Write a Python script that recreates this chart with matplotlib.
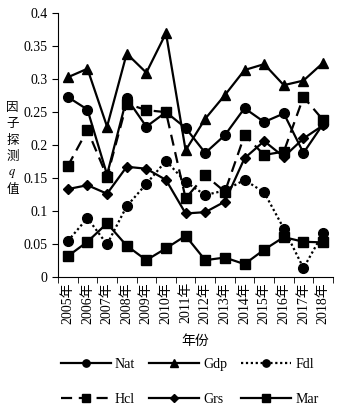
import matplotlib.pyplot as plt
import numpy as np

plt.rcParams['font.family'] = ['Liberation Serif', 'Noto Sans CJK SC']
plt.rcParams['mathtext.fontset'] = 'stix'

years = [f"{y}年" for y in range(2005, 2019)]

nat = [0.273, 0.254, 0.155, 0.271, 0.228, 0.250, 0.226, 0.188, 0.215, 0.256, 0.235, 0.248, 0.188, 0.232]
gdp = [0.303, 0.316, 0.228, 0.339, 0.310, 0.370, 0.192, 0.240, 0.276, 0.314, 0.323, 0.291, 0.298, 0.325]
fdl = [0.054, 0.089, 0.049, 0.107, 0.141, 0.176, 0.144, 0.124, 0.131, 0.147, 0.128, 0.073, 0.013, 0.066]
hcl = [0.168, 0.223, 0.152, 0.263, 0.253, 0.250, 0.119, 0.154, 0.129, 0.215, 0.185, 0.190, 0.273, 0.238]
grs = [0.133, 0.139, 0.126, 0.167, 0.164, 0.147, 0.096, 0.098, 0.114, 0.180, 0.206, 0.182, 0.210, 0.230]
mar = [0.031, 0.053, 0.081, 0.047, 0.025, 0.043, 0.062, 0.025, 0.029, 0.019, 0.041, 0.060, 0.053, 0.052]

ylabel_chars = ["因", "子", "探", "测", "$q$", "值"]

fig = plt.figure(figsize=(3.45, 4.08), dpi=100)
ax = fig.add_axes([0.168, 0.322, 0.797, 0.645])

x = np.arange(len(years))
lw = 1.6
nat_l, = ax.plot(x, nat, "k-", lw=lw, marker="o", ms=7, label="Nat")
gdp_l, = ax.plot(x, gdp, "k-", lw=lw, marker="^", ms=7, label="Gdp")
fdl_l, = ax.plot(x, fdl, "k", ls=(0, (1, 1.2)), lw=lw, marker="o", ms=7, label="Fdl")
hcl_l, = ax.plot(x, hcl, "k", ls=(0, (5, 3)), lw=lw, marker="s", ms=7, label="Hcl")
grs_l, = ax.plot(x, grs, "k-", lw=lw, marker="D", ms=5, label="Grs")
mar_l, = ax.plot(x, mar, "k-", lw=lw, marker="s", ms=7, label="Mar")

ax.set_xlim(-0.5, len(years) - 0.5)
ax.set_ylim(0, 0.4)
ax.set_yticks(np.arange(0, 0.41, 0.05))
ax.set_yticklabels(["0", "0.05", "0.1", "0.15", "0.2", "0.25", "0.3", "0.35", "0.4"])
ax.set_xticks(x)
ax.set_xticklabels(years, rotation=90)
ax.set_xticks(np.arange(-0.5, len(years), 1), minor=True)
ax.tick_params(axis="x", which="major", length=0, pad=4, labelsize=10)
ax.tick_params(axis="x", which="minor", length=4, direction="out")
ax.tick_params(axis="y", length=4, direction="out", labelsize=10)
for s in ["top", "right"]:
    ax.spines[s].set_visible(False)

ax.set_xlabel("年份", fontsize=10, labelpad=8)

# vertical stacked y label
for i, ch in enumerate(ylabel_chars):
    fig.text(0.036, 1 - (108 + i * 16.4) / 408, ch, ha="center", va="center", fontsize=9)

handles = [nat_l, hcl_l, gdp_l, grs_l, fdl_l, mar_l]
leg = fig.legend(handles=handles, loc="lower center", bbox_to_anchor=(0.55, -0.025), ncol=3,
                 frameon=False, fontsize=10, handlelength=3.6, columnspacing=1.0,
                 labelspacing=1.55, handletextpad=0.3, markerscale=0.75)

fig.savefig("out.png", dpi=100)
